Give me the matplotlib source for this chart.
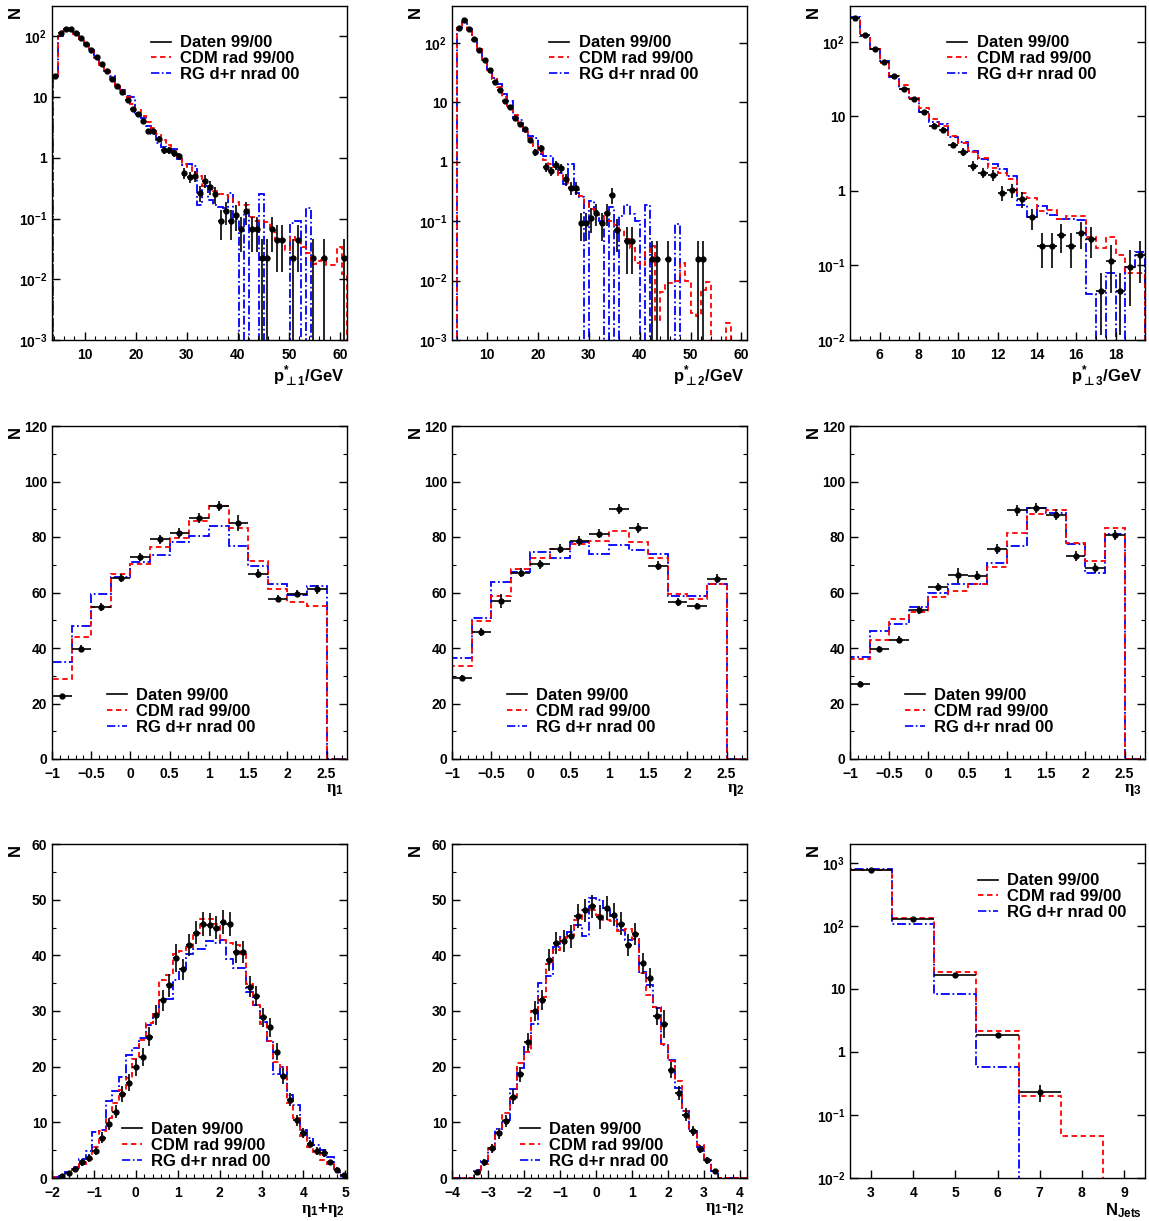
import numpy as np
import matplotlib
matplotlib.use('Agg')
import matplotlib.pyplot as plt
from matplotlib.lines import Line2D
from matplotlib.ticker import MultipleLocator, FixedLocator, NullLocator

plt.rcParams['font.family'] = 'Liberation Sans'
plt.rcParams['font.weight'] = 'bold'
plt.rcParams['mathtext.fontset'] = 'custom'
plt.rcParams['mathtext.rm'] = 'Liberation Sans:bold'
plt.rcParams['mathtext.bf'] = 'Liberation Sans:bold'
plt.rcParams['mathtext.sf'] = 'DejaVu Sans'
plt.rcParams['mathtext.it'] = 'Liberation Serif'

# ---- p*_perp1 ----
pt1_edges = np.linspace(3.75, 61.4, 58)
pt1_data = [22.2, 112, 134, 130, 112, 93, 75, 59, 45, 34.5,
            26.8, 19.6, 15.2, 12.2, 8.9, 6.4, 5.25, 4.07, 2.75, 2.75,
            2.08, 1.34, 1.34, 1.18, 1.06, 0.566, 0.486, 0.505, 0.268, 0.418,
            0.333, 0.25, 0.091, 0.134, 0.091, 0.113, 0.067, 0.134, 0.067, 0.067,
            0.0228, 0.0228, 0.067, 0.045, 0.045, 0, 0.0228, 0.045, 0, 0,
            0.0228, 0, 0.0228, 0, 0, 0, 0.0228]
pt1_err = [0.71, 1.6, 1.75, 1.72, 1.6, 1.46, 1.31, 1.16, 1.01, 0.89,
           0.78, 0.67, 0.59, 0.53, 0.45, 0.38, 0.35, 0.3, 0.25, 0.25,
           0.22, 0.175, 0.175, 0.16, 0.155, 0.114, 0.105, 0.107, 0.078, 0.098,
           0.087, 0.075, 0.046, 0.055, 0.046, 0.051, 0.039, 0.055, 0.039, 0.039,
           0.0228, 0.0228, 0.039, 0.032, 0.032, 0, 0.0228, 0.032, 0, 0,
           0.0228, 0, 0.0228, 0, 0, 0, 0.0228]
pt1_cdm = [22, 100, 125, 128, 110, 90, 73, 57, 44, 34,
           27, 20, 15.5, 12.5, 10, 7.8, 6.2, 4.9, 3.9, 3.1,
           2.5, 2.0, 1.6, 1.3, 1.05, 0.8, 0.7, 0.57, 0.5, 0.35,
           0.32, 0.28, 0.25, 0.24, 0.22, 0.19, 0.17, 0.17, 0.107, 0.09,
           0.09, 0.088, 0.064, 0.045, 0.045, 0.03, 0.05, 0.045, 0.034, 0.027,
           0.018, 0.02, 0.021, 0.017, 0.017, 0.034, 0.012]
pt1_rg = [22, 100, 130, 130, 112, 90, 75, 60, 45, 36,
          27, 22, 16, 13, 10.5, 10, 5.5, 4.5, 3.3, 2.5,
          1.75, 1.5, 1.35, 1.4, 0.95, 0.75, 0.8, 0.72, 0.17, 0.35,
          0.2, 0.17, 0.155, 0.15, 0.26, 0.1, 0, 0.13, 0, 0,
          0.25, 0, 0, 0, 0, 0, 0.085, 0.09, 0, 0.15,
          0, 0, 0, 0, 0, 0, 0]

# ---- p*_perp2 ----
pt2_edges = np.arange(4.0, 61.5, 1.0)
pt2_data = [181, 247, 172, 114, 75, 50.5, 34.3, 21.8, 16, 10.5,
            8.3, 5.5, 4.24, 3.49, 2.31, 1.45, 1.68, 0.824, 0.697, 0.867,
            0.79, 0.505, 0.366, 0.366, 0.092, 0.092, 0.114, 0.139, 0.092, 0.139,
            0.275, 0.07, 0, 0.046, 0.046, 0, 0, 0, 0.0234, 0.0234,
            0, 0.0234, 0, 0, 0, 0, 0, 0.0234, 0.0234, 0,
            0, 0, 0, 0, 0, 0, 0]
pt2_err = [2.06, 2.4, 2.0, 1.63, 1.32, 1.09, 0.9, 0.71, 0.61, 0.5,
           0.44, 0.36, 0.31, 0.29, 0.23, 0.18, 0.2, 0.14, 0.128, 0.142,
           0.136, 0.109, 0.093, 0.093, 0.046, 0.046, 0.052, 0.057, 0.046, 0.057,
           0.08, 0.04, 0, 0.033, 0.033, 0, 0, 0, 0.0234, 0.0234,
           0, 0.0234, 0, 0, 0, 0, 0, 0.0234, 0.0234, 0,
           0, 0, 0, 0, 0, 0, 0]
pt2_cdm = [178, 240, 165, 112, 78, 52, 35, 25, 18, 12.5,
           8.8, 6.2, 4.4, 3.2, 2.5, 1.85, 1.45, 1.05, 0.9, 0.82,
           0.6, 0.47, 0.38, 0.33, 0.26, 0.2, 0.16, 0.13, 0.12, 0.1,
           0.1, 0.085, 0.07, 0.05, 0.035, 0.02, 0.018, 0.03, 0.038, 0.0022,
           0.0063, 0.009, 0.009, 0.0098, 0.02, 0.0098, 0.0029, 0.0025, 0.007, 0.0093,
           0, 0, 0, 0.0019, 0, 0, 0]
pt2_rg = [180, 245, 170, 115, 77, 52, 37, 26, 20, 14,
          10.5, 5.5, 5, 3.3, 2.7, 2.5, 1.35, 1.25, 1.25, 0.82,
          0.65, 0.42, 0.93, 0.3, 0.25, 0, 0.22, 0.15, 0.1, 0,
          0.17, 0, 0.12, 0.19, 0.13, 0.1, 0, 0.19, 0, 0,
          0, 0, 0, 0.09, 0, 0, 0, 0, 0, 0,
          0, 0, 0, 0, 0, 0, 0]

# ---- p*_perp3 ----
pt3_edges = np.arange(4.5, 19.75, 0.5)
pt3_data = [208, 124, 80, 54, 35, 23.2, 17.3, 11.5, 7.45, 6.6,
            4.14, 3.34, 2.17, 1.76, 1.62, 0.95, 1.03, 0.773, 0.44, 0.183,
            0.183, 0.254, 0.183, 0.276, 0.229, 0.0455, 0.115, 0.0455, 0.094, 0.137]
pt3_err = [3.1, 2.4, 1.9, 1.57, 1.26, 1.03, 0.89, 0.72, 0.58, 0.55,
           0.43, 0.39, 0.31, 0.28, 0.27, 0.21, 0.22, 0.19, 0.14, 0.091,
           0.091, 0.107, 0.091, 0.112, 0.102, 0.034, 0.072, 0.034, 0.065, 0.079]
pt3_cdm = [210, 120, 80, 52, 35, 26, 17.5, 12.8, 9.2, 7.5,
           5.5, 4.4, 3.3, 2.8, 2.05, 1.73, 1.43, 0.93, 0.8, 0.53,
           0.55, 0.42, 0.46, 0.46, 0.24, 0.17, 0.24, 0.14, 0.08, 0.08]
pt3_rg = [215, 118, 80, 55, 34, 23, 17, 11.5, 8.5, 7.8,
          5.3, 4.5, 3.4, 2.66, 2.27, 1.95, 1.56, 0.64, 0.45, 0.62,
          0.47, 0.42, 0.42, 0.41, 0.042, 0, 0.08, 0, 0.095, 0.15]

# ---- eta_1, eta_2, eta_3 ----
eta_edges = np.arange(-1.0, 2.8, 0.25)
eta1_data = [22.7, 39.8, 54.8, 65.3, 72.8, 79.2, 81.5, 87, 91.2, 85.1, 66.8, 57.8, 59.6, 61.2, 0]
eta1_err = [0.8, 1.2, 1.4, 1.5, 1.6, 1.7, 1.7, 1.8, 1.8, 2.8, 1.5, 1.2, 1.4, 1.6, 0]
eta1_cdm = [28.9, 44, 54.8, 66.8, 70.4, 76.4, 79.8, 85.8, 91.2, 83.2, 71.3, 61.1, 56.6, 55.1, 0]
eta1_rg = [34.9, 48, 59.3, 65.6, 71, 73.4, 78.2, 80.3, 84, 76.7, 69.6, 62.9, 59, 62.4, 0]

eta2_data = [29.3, 45.8, 57, 67.2, 70.2, 75.8, 78.5, 81.2, 90.2, 83.2, 69.7, 56.6, 55.1, 65, 0]
eta2_err = [1.0, 1.3, 2.6, 1.5, 1.6, 1.7, 1.7, 1.7, 1.8, 1.8, 1.6, 1.3, 1.2, 1.5, 0]
eta2_cdm = [33.5, 49.8, 58.7, 68.4, 72.5, 75.5, 77.6, 78.5, 82.2, 78.2, 72.6, 59.6, 57.6, 63.2, 0]
eta2_rg = [36.5, 50.9, 63.7, 67.4, 74.6, 72.6, 78.2, 74, 77.2, 75.2, 73.8, 58.8, 58.8, 63.2, 0]

eta3_data = [27.2, 39.7, 43, 53.6, 62, 66.2, 66.1, 75.8, 89.6, 90.5, 88.1, 73.1, 68.9, 80.6, 0]
eta3_err = [1.0, 1.2, 1.3, 1.5, 1.5, 2.8, 1.7, 1.8, 1.9, 1.9, 1.9, 1.7, 1.7, 1.8, 0]
eta3_cdm = [35.9, 43, 50.6, 52.8, 58.2, 60.5, 62.9, 69.2, 81.6, 88.2, 89.6, 77.9, 71.3, 83.4, 0]
eta3_rg = [36.7, 46.1, 48.8, 54.8, 59.9, 63, 63, 70.7, 76.7, 90.6, 88.7, 77.3, 67.2, 81, 0]

# ---- eta_1 + eta_2 ----
sum_edges = np.linspace(-2.0, 5.04, 45)
sum_data = [0, 0.3, 0.9, 1.6, 2.8, 3.6, 4.85, 7.2, 9.7, 11.9,
            15.1, 17.1, 19.9, 21.7, 25.4, 29.2, 31.9, 34.6, 39.5, 37.5,
            41.8, 44.1, 45.6, 45.5, 45, 46, 45.6, 40.6, 40.6, 34.4,
            32.7, 28.9, 27.1, 22.7, 18.3, 14.1, 10.4, 8, 6.1, 4.9,
            4.5, 2.8, 1.5, 0.5]
sum_err = [0, 0.2, 0.35, 0.45, 0.6, 0.7, 0.8, 1.0, 1.1, 1.2,
           1.4, 1.5, 1.5, 1.6, 1.7, 1.8, 1.9, 2.0, 2.5, 1.9,
           2.0, 2.1, 2.1, 2.1, 2.1, 2.1, 2.1, 2.0, 2.0, 1.9,
           1.8, 1.7, 1.7, 1.5, 1.4, 1.2, 1.0, 0.9, 0.8, 0.7,
           0.7, 0.5, 0.4, 0.25]
sum_cdm = [0.1, 0.4, 0.9, 1.5, 2.5, 3.4, 5.5, 8.5, 10.8, 13.5,
           15.8, 18, 21.4, 24.8, 27.8, 29.5, 35.6, 36.5, 40.3, 40.8,
           41.5, 44, 46.5, 46.5, 45.7, 42.8, 42.2, 41.8, 40.3, 34.8,
           31, 27.6, 24.6, 20.8, 20, 13.5, 10.8, 7.5, 5.6, 4.6,
           3.2, 2.5, 1.2, 0.5]
sum_rg = [0.2, 0.4, 1.0, 2.0, 3.4, 4.8, 8.2, 8.7, 13.8, 15.6,
          18.1, 22.1, 23.4, 25.1, 27.4, 29.4, 32.2, 32.2, 35.5, 37.5,
          40.3, 41.2, 41.2, 42.5, 42.3, 42.8, 39.4, 37.8, 37.8, 33.5,
          31, 28, 24.7, 18.6, 20, 15, 13.2, 8.6, 7.2, 6,
          5, 3.8, 1.7, 0.4]

# ---- eta_1 - eta_2 ----
diff_edges = np.linspace(-4.0, 4.2, 42)
diff_data = [0, 0, 0, 1.1, 2.8, 5.3, 8.0, 10.3, 14.6, 18.6,
             24.5, 30, 31.9, 39.1, 42.2, 42.6, 43.4, 47.1, 48.1, 48.8,
             46.9, 48.5, 47.3, 45.7, 41.8, 43.8, 38.6, 35.9, 29.1, 27.7,
             19.4, 15.3, 11.4, 8.5, 5.2, 3.2, 1.3, 0, 0, 0, 0]
diff_err = [0, 0, 0, 0.4, 0.6, 0.8, 1.0, 1.1, 1.3, 1.4,
            1.6, 1.8, 1.8, 2.0, 2.0, 2.0, 2.0, 2.1, 2.1, 2.1,
            2.1, 2.1, 2.1, 2.0, 2.0, 2.0, 1.9, 1.8, 1.6, 2.5,
            1.4, 1.3, 1.1, 0.9, 0.7, 0.6, 0.4, 0, 0, 0, 0]
diff_cdm = [0, 0, 0, 0.8, 2.6, 5.3, 8.3, 11.6, 14.2, 20.6,
            22.7, 30, 32.6, 38.5, 40.9, 43.2, 43.7, 46.4, 48.1, 48.2,
            47.2, 46.3, 46.2, 44.3, 44.7, 42.9, 36.9, 32.9, 30.7, 24.1,
            21.1, 17.4, 12, 8.4, 6, 3.1, 1.2, 0, 0, 0, 0]
diff_rg = [0, 0, 0, 1.5, 3, 5.2, 8.8, 10.4, 16, 19.8,
           23.6, 27.6, 35, 36.3, 41.5, 43.3, 44.2, 45.5, 43.5, 50.3,
           50, 48.2, 47, 44.6, 42.8, 43, 37, 34.7, 30.6, 23.9,
           21.2, 16.1, 12, 8.5, 5.6, 3.3, 1.3, 0, 0, 0, 0]

# ---- N_Jets ----
nj_edges = np.arange(2.5, 10.0, 1.0)
nj_data = [784, 129, 16.7, 1.88, 0.229, 0, 0]
nj_err = [4, 1.7, 0.6, 0.15, 0.07, 0, 0]
nj_cdm = [765, 133, 18.4, 2.18, 0.198, 0.046, 0]
nj_rg = [800, 109, 8.2, 0.57, 0, 0, 0]

labels = ['Daten 99/00', 'CDM rad 99/00', 'RG d+r nrad 00']
red_ls = (0, (3, 2))
blue_ls = (0, (5, 1.5, 1, 1.5))

W, H = 1149, 1221
fig = plt.figure(figsize=(W / 100, H / 100), dpi=100)


def make_axes(left, top, right, bottom):
    return fig.add_axes([left / W, 1 - bottom / H, (right - left) / W, (bottom - top) / H])


def hist(ax, edges, vals, color, ls, log):
    v = np.asarray(vals, float)
    base = 0
    if log:
        v = np.where(v > 0, v, 1e-6)
        base = 1e-6
    ax.stairs(v, edges, baseline=base, color=color, ls=ls, lw=1.3)


def points(ax, edges, vals, errs):
    e = np.asarray(edges, float)
    v = np.asarray(vals, float)
    s = np.asarray(errs, float)
    c = 0.5 * (e[1:] + e[:-1])
    w = 0.5 * np.diff(e)
    m = v > 0
    ax.errorbar(c[m], v[m], yerr=s[m], xerr=w[m], fmt='o', ms=3.5, color='k',
                ecolor='k', elinewidth=1.2, capsize=0, zorder=5)


def panel(ax, edges, data, err, cdm, rg, log, xlim, ylim, xlabel, leg_xy):
    if log:
        ax.set_yscale('log')
    hist(ax, edges, rg, 'blue', blue_ls, log)
    hist(ax, edges, cdm, 'red', red_ls, log)
    points(ax, edges, data, err)
    ax.set_xlim(*xlim)
    ax.set_ylim(*ylim)
    if log:
        lo = int(np.round(np.log10(ylim[0])))
        hi = int(np.floor(np.log10(ylim[1])))
        ticks = [10.0 ** k for k in range(lo, hi + 1)]
        names = []
        for k in range(lo, hi + 1):
            if k == 0:
                names.append('1')
            elif k == 1:
                names.append('10')
            else:
                names.append(r'$\mathrm{10^{%d}}$' % k)
        ax.yaxis.set_major_locator(FixedLocator(ticks))
        ax.set_yticklabels(names)
        ax.yaxis.set_minor_locator(NullLocator())
    ax.tick_params(which='both', direction='in', right=True, labelsize=10)
    ax.tick_params(axis='x', pad=6)
    ax.tick_params(which='major', length=6, width=1)
    ax.tick_params(which='minor', length=3, width=0.8)
    for sp in ax.spines.values():
        sp.set_linewidth(1.0)
    ax.text(-0.125, 1.0, 'N', rotation=90, ha='center', va='top',
            fontsize=12, fontweight='bold', transform=ax.transAxes)
    ax.text(0.99, -0.07, xlabel, ha='right', va='top', fontsize=12,
            fontweight='bold', transform=ax.transAxes)
    handles = [Line2D([], [], color='k', lw=1.2),
               Line2D([], [], color='red', lw=1.3, ls=red_ls),
               Line2D([], [], color='blue', lw=1.2, ls=blue_ls)]
    ax.legend(handles, labels, loc='upper left', bbox_to_anchor=leg_xy,
              frameon=False, fontsize=12, handlelength=1.2, handletextpad=0.55,
              labelspacing=0.05, borderpad=0, borderaxespad=0)


cols = [(52, 347), (452, 747), (850, 1145)]
rows = [(6, 340), (426, 759), (844, 1178)]

ax = make_axes(cols[0][0], rows[0][0], cols[0][1], rows[0][1])
panel(ax, pt1_edges, pt1_data, pt1_err, pt1_cdm, pt1_rg, True, (3.6, 61.4),
      (1e-3, 10 ** 2.5), r'p$^{*}_{\mathsf{\bot}\mathrm{1}}$/GeV', (0.335, 0.912))
ax.xaxis.set_major_locator(MultipleLocator(10))
ax.xaxis.set_minor_locator(MultipleLocator(2))

ax = make_axes(cols[1][0], rows[0][0], cols[1][1], rows[0][1])
panel(ax, pt2_edges, pt2_data, pt2_err, pt2_cdm, pt2_rg, True, (3.1, 61.1),
      (1e-3, 10 ** 2.62), r'p$^{*}_{\mathsf{\bot}\mathrm{2}}$/GeV', (0.33, 0.912))
ax.xaxis.set_major_locator(MultipleLocator(10))
ax.xaxis.set_minor_locator(MultipleLocator(2))

ax = make_axes(cols[2][0], rows[0][0], cols[2][1], rows[0][1])
panel(ax, pt3_edges, pt3_data, pt3_err, pt3_cdm, pt3_rg, True, (4.5, 19.5),
      (1e-2, 10 ** 2.48), r'p$^{*}_{\mathsf{\bot}\mathrm{3}}$/GeV', (0.33, 0.912))
ax.xaxis.set_major_locator(MultipleLocator(2))
ax.xaxis.set_minor_locator(MultipleLocator(0.5))

eta_sets = [(eta1_data, eta1_err, eta1_cdm, eta1_rg, r'$\eta_{1}$'),
            (eta2_data, eta2_err, eta2_cdm, eta2_rg, r'$\eta_{2}$'),
            (eta3_data, eta3_err, eta3_cdm, eta3_rg, r'$\eta_{3}$')]
for (l, r), (d, e, c, g, lab) in zip(cols, eta_sets):
    ax = make_axes(l, rows[1][0], r, rows[1][1])
    panel(ax, eta_edges, d, e, c, g, False, (-1.0, 2.76), (0, 120), lab, (0.186, 0.213))
    ax.xaxis.set_major_locator(MultipleLocator(0.5))
    ax.xaxis.set_minor_locator(MultipleLocator(0.1))
    ax.yaxis.set_major_locator(MultipleLocator(20))
    ax.yaxis.set_minor_locator(MultipleLocator(10))
    ax.xaxis.set_major_formatter(plt.FuncFormatter(lambda v, p: ('%g' % v).replace('-', '\u2212')))

ax = make_axes(cols[0][0], rows[2][0], cols[0][1], rows[2][1])
panel(ax, sum_edges, sum_data, sum_err, sum_cdm, sum_rg, False, (-2.0, 5.04), (0, 60),
      r'$\eta_{1}$+$\eta_{2}$', (0.237, 0.167))
ax.xaxis.set_major_locator(MultipleLocator(1))
ax.xaxis.set_minor_locator(MultipleLocator(0.2))
ax.yaxis.set_major_locator(MultipleLocator(10))
ax.yaxis.set_minor_locator(MultipleLocator(5))

ax = make_axes(cols[1][0], rows[2][0], cols[1][1], rows[2][1])
panel(ax, diff_edges, diff_data, diff_err, diff_cdm, diff_rg, False, (-4.0, 4.2), (0, 60),
      r'$\eta_{1}$-$\eta_{2}$', (0.23, 0.167))
ax.xaxis.set_major_locator(MultipleLocator(1))
ax.xaxis.set_minor_locator(MultipleLocator(0.2))
ax.yaxis.set_major_locator(MultipleLocator(10))
ax.yaxis.set_minor_locator(MultipleLocator(5))

ax = make_axes(cols[2][0], rows[2][0], cols[2][1], rows[2][1])
panel(ax, nj_edges, nj_data, nj_err, nj_cdm, nj_rg, True, (2.5, 9.5), (1e-2, 2000),
      r'N$_{\mathrm{Jets}}$', (0.434, 0.912))
ax.xaxis.set_major_locator(MultipleLocator(1))
ax.xaxis.set_minor_locator(NullLocator())

fig.savefig('out.png', dpi=100)
